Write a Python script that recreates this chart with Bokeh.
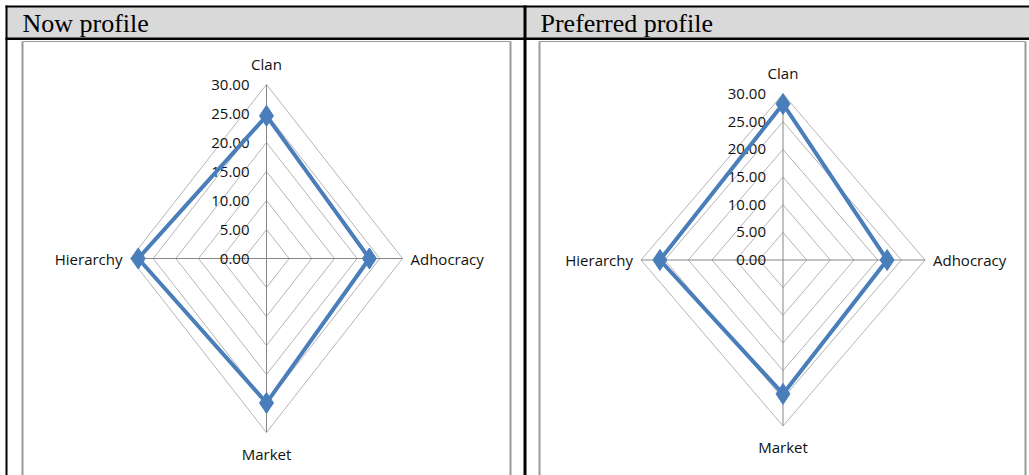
import numpy as np
from bokeh.plotting import figure
from bokeh.models import Range1d, ColumnDataSource
from bokeh.embed import file_html
from bokeh.resources import INLINE
from bokeh.core.properties import value

# ---------------- data ----------------
categories = ["Clan", "Adhocracy", "Market", "Hierarchy"]
now_profile = [24.6, 22.7, 24.9, 28.3]
preferred_profile = [28.2, 22.0, 24.2, 26.0]
tick_values = [0, 5, 10, 15, 20, 25, 30]
tick_labels = ["0.00", "5.00", "10.00", "15.00", "20.00", "25.00", "30.00"]
panel_titles = ["Now profile", "Preferred profile"]
axis_max = 30

# ---------------- style / layout ----------------
W, H = 1029, 475
LINE_BLUE = "#4a7ebb"
RING_GRAY = "#b4b4b4"
SPOKE_GRAY = "#868686"
TXT = "#111111"
SANS = value("Open Sans")
SERIF = value("Liberation Serif")

# direction of each category axis (screen coords: y grows downward)
dirs = {"Clan": (0, -1), "Adhocracy": (1, 0), "Market": (0, 1), "Hierarchy": (-1, 0)}

panels = [
    dict(title=panel_titles[0], data=now_profile, cx=266, cy=258, rx=136, ry=174,
         box=(22, 510), title_x=22),
    dict(title=panel_titles[1], data=preferred_profile, cx=782.5, cy=259.5, rx=142, ry=166,
         box=(539, 1025), title_x=540),
]

p = figure(width=W, height=H, x_range=Range1d(0, W), y_range=Range1d(H, 0),
           output_backend="svg", toolbar_location=None, min_border=0,
           outline_line_color=None, background_fill_color="white")
p.axis.visible = False
p.grid.visible = False

# ---------------- table frame ----------------
p.quad(left=[6], right=[W], top=[6], bottom=[38], fill_color="#d9d9d9", line_color=None)
p.multi_line(xs=[[5, W], [5, W], [6, 6], [524.5, 524.5]],
             ys=[[6, 6], [38.3, 38.3], [5, H], [5, H]],
             line_color="black", line_width=[2, 2.5, 2, 3])

for pn in panels:
    # chart box
    bl, br = pn["box"]
    p.multi_line(xs=[[bl, bl], [br, br], [bl, br]], ys=[[41, H + 2], [41, H + 2], [41, 41]],
                 line_color="#9a9a9a", line_width=[2, 2, 1])
    p.text(x=[pn["title_x"]], y=[23], text=[pn["title"]], text_font=SERIF,
           text_font_size="26px", text_baseline="middle", text_align="left",
           text_color="black")

    cx, cy, rx, ry = pn["cx"], pn["cy"], pn["rx"], pn["ry"]

    def pt(cat, v):
        dx, dy = dirs[cat]
        return cx + dx * v / axis_max * rx, cy + dy * v / axis_max * ry

    # rings
    xs, ys = [], []
    for t in tick_values[1:]:
        pts = [pt(c, t) for c in categories] + [pt(categories[0], t)]
        xs.append([a for a, b in pts])
        ys.append([b for a, b in pts])
    p.multi_line(xs=xs, ys=ys, line_color=RING_GRAY, line_width=1)

    # spokes
    sx, sy = [], []
    for c in categories:
        ex, ey = pt(c, axis_max)
        sx.append([cx, ex])
        sy.append([cy, ey])
    p.multi_line(xs=sx, ys=sy, line_color=SPOKE_GRAY, line_width=1)

    # tick labels
    tsrc = ColumnDataSource(dict(
        x=[cx - 17] * len(tick_values),
        y=[pt("Clan", t)[1] for t in tick_values],
        t=tick_labels))
    p.text(x="x", y="y", text="t", source=tsrc, text_font=SANS, text_font_size="15px",
           text_align="right", text_baseline="middle", text_color=TXT)

    # category labels
    lx, ly, la, lb = [], [], [], []
    for c in categories:
        ex, ey = pt(c, axis_max)
        dx, dy = dirs[c]
        if dy == -1:
            lx.append(ex); ly.append(ey - 21); la.append("center"); lb.append("middle")
        elif dy == 1:
            lx.append(ex); ly.append(ey + 21); la.append("center"); lb.append("middle")
        elif dx == 1:
            lx.append(ex + 8); ly.append(ey); la.append("left"); lb.append("middle")
        else:
            lx.append(ex - 8); ly.append(ey); la.append("right"); lb.append("middle")
    csrc = ColumnDataSource(dict(x=lx, y=ly, t=categories, a=la, b=lb))
    p.text(x="x", y="y", text="t", source=csrc, text_font=SANS, text_font_size="15px",
           text_align="a", text_baseline="b", text_color=TXT)

    # data series
    dpts = [pt(c, v) for c, v in zip(categories, pn["data"])]
    lxs = [a for a, b in dpts] + [dpts[0][0]]
    lys = [b for a, b in dpts] + [dpts[0][1]]
    p.line(lxs, lys, line_color=LINE_BLUE, line_width=4)
    p.scatter([a for a, b in dpts], [b for a, b in dpts], marker="diamond", size=21,
              fill_color=LINE_BLUE, line_color=LINE_BLUE)

open("out.html", "w").write(file_html(p, INLINE))
